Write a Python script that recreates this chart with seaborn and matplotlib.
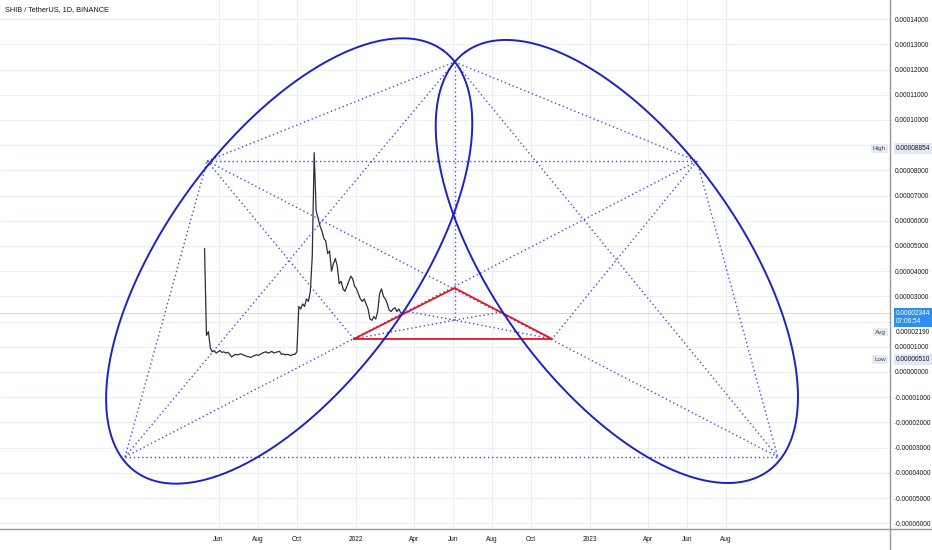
"""
SHIB / TetherUS daily chart with the ellipse + triangle drawing layered on top.
"""
import numpy as np
import pandas as pd
import matplotlib
matplotlib.use("Agg")
import matplotlib.pyplot as plt
import matplotlib.dates as mdates
import seaborn as sns

# --- price data: closes every 3 days from listing, in units of 1e-5 USDT ---
price_start = "2021-05-10"
price_e5 = [
    4.9, 1.45, 1.6, 0.95, 0.8, 0.85, 0.75, 0.8,                     # May
    0.85, 0.78, 0.8, 0.75, 0.78, 0.72, 0.6, 0.65, 0.7, 0.68,        # Jun
    0.7, 0.72, 0.68, 0.65, 0.62, 0.6, 0.58, 0.62, 0.65, 0.68,       # Jul
    0.66, 0.7, 0.75, 0.78, 0.8, 0.75, 0.78, 0.82, 0.75, 0.78,       # Aug
    0.8, 0.82, 0.7, 0.72, 0.68, 0.7, 0.68, 0.65, 0.7, 0.7,          # Sep
    0.8, 2.6, 2.5, 2.7, 2.6, 2.9, 2.8, 3.2, 4.6, 8.7, 6.4,          # Oct
    6.1, 5.8, 5.6, 5.3, 5.2, 4.7, 4.8, 4.0, 4.3, 4.5,               # Nov
    4.2, 3.5, 3.6, 3.3, 3.2, 3.4, 3.6, 3.8, 3.7, 3.4,               # Dec
    3.3, 3.1, 2.9, 2.8, 2.9, 2.7, 2.5, 2.1, 2.05, 2.2,              # Jan
    2.1, 2.4, 3.1, 3.3, 3.0, 2.9, 2.7, 2.45, 2.4, 2.5,              # Feb
    2.55, 2.4, 2.5, 2.35, 2.3, 2.34,                                # Mar
]

# stats shown on the price scale
stat_high = 0.00008854
stat_avg = 0.00002190
stat_low = 0.00000510
last_price = 0.00002344
countdown = "07:06:54"

# --- drawing anchor points (date, price in 1e-5) ---
anchor_names = ["A", "B", "C", "D", "E", "G", "H", "I", "J", "KL", "KR"]
anchor_dates = ["2021-01-06", "2021-05-14", "2022-06-04", "2023-06-17", "2023-10-21",
                "2021-12-29", "2022-06-04", "2022-11-03", "2022-06-04",
                "2022-03-18", "2022-08-17"]
anchor_e5 = [-3.37, 8.37, 12.30, 8.37, -3.37, 1.31, 3.33, 1.31, 2.06, 2.42, 2.38]

dotted_pairs = [("A", "E"), ("B", "D"), ("A", "B"), ("A", "C"), ("A", "D"),
                ("B", "C"), ("B", "E"), ("B", "G"), ("C", "D"), ("C", "E"),
                ("C", "J"), ("D", "E"), ("D", "I"), ("G", "J"), ("I", "J"),
                ("J", "KL"), ("J", "KR")]
triangle = ["G", "H", "I", "G"]

# ellipses: major axis end points (date, price 1e-5) and minor/major ratio
ellipse_starts = [("2021-01-22", -3.95), ("2023-10-06", -3.93)]
ellipse_ends = [("2022-05-17", 12.76), ("2022-06-21", 12.70)]
ellipse_ratios = [0.471, 0.475]

# axis ticks (labels hidden behind the price-scale badges are left blank)
x_tick_dates = ["2021-06-01", "2021-08-01", "2021-10-01", "2022-01-01", "2022-04-01",
                "2022-06-01", "2022-08-01", "2022-10-01", "2023-01-01", "2023-04-01",
                "2023-06-01", "2023-08-01"]
x_tick_labels = ["Jun", "Aug", "Oct", "2022", "Apr", "Jun", "Aug", "Oct", "2023",
                 "Apr", "Jun", "Aug"]
y_ticks_e5 = list(range(-6, 15))
y_hidden_e5 = [2, 9]

sns.set_theme(style="white")
plt.rcParams["font.family"] = ["Liberation Sans Narrow", "Liberation Sans", "DejaVu Sans"]

W, H = 932, 550
fig = plt.figure(figsize=(W / 100, H / 100), dpi=100)
ax = fig.add_axes([0, 21 / H, 890 / W, 529 / H])

# price series
price_dates = pd.date_range(price_start, periods=len(price_e5), freq="3D")
price = np.array(price_e5) * 1e-5
sns.lineplot(x=price_dates, y=price, ax=ax, color="#2a2e39", linewidth=0.9, zorder=3)
ax.set_xlabel("")
ax.set_ylabel("")

ax.set_xlim(mdates.date2num(pd.Timestamp("2020-06-25")),
            mdates.date2num(pd.Timestamp("2024-04-13")))
ax.set_ylim(-6.23e-5, 14.76e-5)

pts = {n: (mdates.date2num(pd.Timestamp(d)), v * 1e-5)
       for n, d, v in zip(anchor_names, anchor_dates, anchor_e5)}

dot_color = "#4b4be3"
for p, q in dotted_pairs:
    ax.plot([pts[p][0], pts[q][0]], [pts[p][1], pts[q][1]], color=dot_color,
            lw=1.0, ls=(0, (1, 2)), zorder=4)

ax.plot([pts[n][0] for n in triangle], [pts[n][1] for n in triangle],
        color="#e4161f", lw=1.3, zorder=5)


def ellipse_path(start, end, ratio, n=500):
    # build the ellipse in screen space so it looks like the drawn one
    tr = ax.transData
    p1 = tr.transform((mdates.date2num(pd.Timestamp(start[0])), start[1] * 1e-5))
    p2 = tr.transform((mdates.date2num(pd.Timestamp(end[0])), end[1] * 1e-5))
    c = (p1 + p2) / 2
    d = (p2 - p1) / 2
    a = np.hypot(*d)
    u = d / a
    v = np.array([-u[1], u[0]])
    t = np.linspace(0, 2 * np.pi, n)
    xy = c + np.outer(np.cos(t), a * u) + np.outer(np.sin(t), ratio * a * v)
    return tr.inverted().transform(xy)


for s, e, r in zip(ellipse_starts, ellipse_ends, ellipse_ratios):
    xy = ellipse_path(s, e, r)
    ax.plot(xy[:, 0], xy[:, 1], color="#1d21c7", lw=1.4, zorder=6)

# last price line
ax.axhline(last_price, color="#2196f3", lw=0.6, alpha=0.35, zorder=1)

# grid + axes styling
ax.set_xticks([mdates.date2num(pd.Timestamp(d)) for d in x_tick_dates])
ax.set_xticklabels(x_tick_labels)
ax.set_yticks([v * 1e-5 for v in y_ticks_e5])
ax.set_yticklabels(["" if v in y_hidden_e5 else f"{v * 1e-5:.8f}" for v in y_ticks_e5])
ax.yaxis.tick_right()
ax.tick_params(axis="both", length=0, labelsize=4.7, labelcolor="#131722")
ax.tick_params(axis="y", pad=3.5)
ax.tick_params(axis="x", pad=5)
ax.grid(True, color="#eceef3", lw=0.8)
ax.set_axisbelow(True)
for side in ["top", "left"]:
    ax.spines[side].set_visible(False)
for side in ["right", "bottom"]:
    ax.spines[side].set_color("#9598a1")
    ax.spines[side].set_linewidth(1.0)
fig.add_artist(plt.Line2D([890 / W, 890 / W], [0, 21 / H], color="#9598a1", lw=1.0))
fig.add_artist(plt.Line2D([890 / W, 1], [21 / H, 21 / H], color="#9598a1", lw=1.0))

ax.text(5 / 890, 1 - 10 / 529, "SHIB / TetherUS, 1D, BINANCE", transform=ax.transAxes,
        fontsize=5.3, color="#131722", va="center", ha="left")

ytr = ax.get_yaxis_transform()


def badge(value, y, fc, tc, dy=0, tag=None):
    ax.annotate(value, xy=(1, y), xycoords=ytr, xytext=(4, dy), textcoords="offset points",
                ha="left", va="center", fontsize=4.7, color=tc, annotation_clip=False,
                bbox=dict(boxstyle="square,pad=0.3", fc=fc, ec="none"), zorder=10)
    if tag:
        ax.annotate(tag, xy=(1, y), xycoords=ytr, xytext=(-3, dy), textcoords="offset points",
                    ha="right", va="center", fontsize=4.6, color="#434651",
                    annotation_clip=False,
                    bbox=dict(boxstyle="square,pad=0.3", fc="#e6eaf3", ec="none"), zorder=10)


badge(f"{stat_high:.8f}", stat_high, "#e2e7f3", "#131722", tag="High")
badge(f"{last_price:.8f}\n{countdown}", last_price, "#2f8ff0", "white", dy=-3)
badge(f"{stat_avg:.8f}", stat_avg, "white", "#131722", dy=-11, tag="Avg")
badge(f"{stat_low:.8f}", stat_low, "#e2e7f3", "#131722", tag="Low")

fig.savefig("out.png", dpi=100)
